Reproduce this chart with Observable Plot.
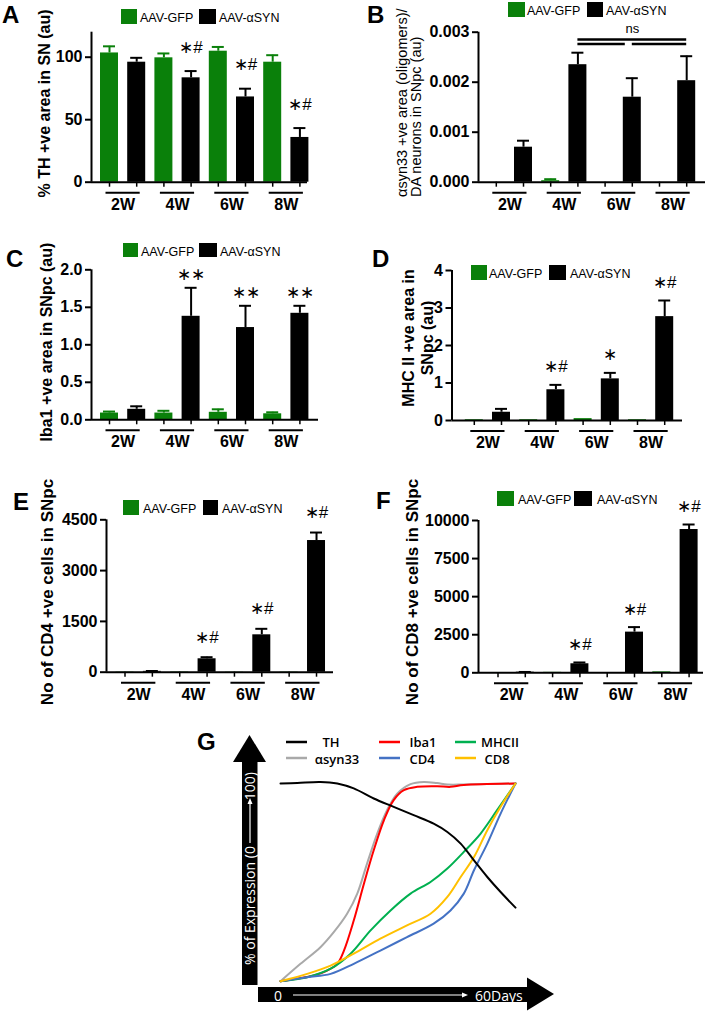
<!DOCTYPE html>
<html><head><meta charset="utf-8">
<script src="https://cdn.jsdelivr.net/npm/d3@7"></script>
<script src="https://cdn.jsdelivr.net/npm/@observablehq/plot@0.6"></script>
<style>
body{margin:0;background:#fff;}
#root{position:relative;width:709px;height:1012px;overflow:hidden;background:#fff;}
#root > svg{position:absolute;}
</style></head><body><div id="root"></div>
<script>
// ================= DATA =================
const weeks = ["2W", "4W", "6W", "8W"];
const seriesNames = ["AAV-GFP", "AAV-αSYN"];
const seriesColors = ["#0a800a", "#000000"];

// A: % TH +ve area in SN (au)
const aGFP = [103.4, 99.5, 104.8, 96.0];
const aGFPsem = [5.3, 3.5, 3.4, 5.6];
const aSYN = [96.0, 83.5, 68.2, 35.8];
const aSYNsem = [3.5, 5.4, 6.6, 7.5];
const aSig = ["", "∗#", "∗#", "∗#"];
const aTicks = [0, 50, 100];
const aLabel = ["% TH +ve area in SN (au)"];

// B: αsyn33 +ve area / DA neurons
const bGFP = [0, 0.00003, 0, 0];
const bGFPsem = [0, 0.00003, 0, 0];
const bSYN = [0.0007, 0.00235, 0.0017, 0.00203];
const bSYNsem = [0.00013, 0.00024, 0.00038, 0.00049];
const bSig = ["", "", "", ""];
const bTicks = [0, 0.001, 0.002, 0.003];
const bLabel = ["αsyn33 +ve area (oligomers)/", "DA neurons in SNpc (au)"];
const bCompare = [
  {from: "4W", to: "8W", level: 2},
  {from: "4W", to: "6W", level: 1},
  {from: "6W", to: "8W", level: 1}
];
const bCompareText = "ns";

// C: Iba1 +ve area in SNpc (au)
const cGFP = [0.09, 0.09, 0.10, 0.08];
const cGFPsem = [0.02, 0.03, 0.04, 0.02];
const cSYN = [0.14, 1.38, 1.23, 1.42];
const cSYNsem = [0.04, 0.38, 0.29, 0.10];
const cSig = ["", "∗∗", "∗∗", "∗∗"];
const cTicks = [0, 0.5, 1.0, 1.5, 2.0];
const cLabel = ["Iba1 +ve area in SNpc (au)"];

// D: MHC II +ve area in SNpc (au)
const dGFP = [0.02, 0.02, 0.05, 0.02];
const dGFPsem = [0, 0, 0, 0];
const dSYN = [0.22, 0.82, 1.11, 2.77];
const dSYNsem = [0.09, 0.13, 0.16, 0.43];
const dSig = ["", "∗#", "∗", "∗#"];
const dTicks = [0, 1, 2, 3, 4];
const dLabel = ["MHC II +ve area in", "SNpc (au)"];

// E: No of CD4 +ve cells in SNpc
const eGFP = [8, 10, 6, 8];
const eGFPsem = [0, 0, 0, 0];
const eSYN = [25, 396, 1104, 3888];
const eSYNsem = [10, 47, 177, 236];
const eSig = ["", "∗#", "∗#", "∗#"];
const eTicks = [0, 1500, 3000, 4500];
const eLabel = ["No of CD4 +ve cells in SNpc"];

// F: No of CD8 +ve cells in SNpc
const fGFP = [20, 30, 15, 60];
const fGFPsem = [0, 0, 0, 0];
const fSYN = [40, 592, 2671, 9408];
const fSYNsem = [15, 86, 329, 329];
const fSig = ["", "∗#", "∗#", "∗#"];
const fTicks = [0, 2500, 5000, 7500, 10000];
const fLabel = ["No of CD8 +ve cells in SNpc"];

// G: schematic % of expression over 0–60 days
const gSeries = ["TH", "αsyn33", "Iba1", "CD4", "MHCII", "CD8"];
const gColors = ["#000000", "#a9a9a9", "#ff0000", "#4472c4", "#00b050", "#ffc000"];
const gTH = [[0,100],[4.3,100.3],[10.2,100.8],[14.5,100],[18.7,97.5],[23.8,92.4],[28.9,88.2],[34.0,84.0],[39.1,79.7],[42.6,75.5],[46.0,69.6],[49.4,61.1],[52.8,52.7],[56.2,45.1],[60,37.2]];
const gSyn = [[0,0],[5.1,8.8],[10.2,17.2],[13.6,24.8],[17.0,34.1],[19.6,44.3],[22.1,59.5],[24.7,74.7],[27.2,86.5],[29.8,94.9],[33.2,99.7],[36.6,100.8],[40.0,100.2],[42.6,99.5],[46.8,99.5],[60,100]];
const gIba1 = [[0,0],[8.5,2.9],[11.9,5.4],[14.5,8.8],[16.2,15.5],[18.7,30.7],[21.3,49.3],[23.8,66.2],[26.4,81.4],[28.9,91.6],[31.5,96.6],[34.9,98.3],[40.0,98.6],[43.4,98.3],[46.8,99.2],[60,100]];
const gCD4 = [[0,0],[6.8,2.0],[12.8,3.7],[18.7,8.8],[25.5,15.5],[32.3,22.3],[39.1,29.1],[43.4,35.8],[46.8,44.3],[49.4,56.1],[52.8,69.6],[56.2,84.8],[60,100]];
const gMHCII = [[0,0],[6.8,2.0],[12.8,6.3],[17.9,13.9],[23.0,25.7],[28.1,35.8],[33.2,44.3],[38.3,50.2],[42.6,57.0],[46.8,65.4],[51.1,74.7],[55.3,86.5],[60,100]];
const gCD8 = [[0,0],[6.8,3.7],[12.8,7.9],[18.7,13.9],[25.5,21.5],[32.3,28.2],[38.3,34.1],[42.6,42.6],[46.0,52.7],[49.4,62.8],[52.8,76.4],[56.2,88.2],[60,100]];
const gYLabel = ["% of Expression (0", "100)"];
const gXLabel = ["0", "60Days"];

// ================= LAYOUT (pixels, not data) =================
const FONT = "Liberation Sans, Arial, Helvetica, sans-serif";
const root = document.getElementById("root");

function barPanel(L, P) {
  const sp = L.sp;
  const toP = px => (px - L.p0) / sp;
  const bars = [];
  weeks.forEach((w, i) => {
    bars.push({week: w, s: 0, pos: 2 * i, mean: P.gfp[i], sem: P.gfpSem[i], sig: ""});
    bars.push({week: w, s: 1, pos: 2 * i + 1, mean: P.syn[i], sem: P.synSem[i], sig: P.sig[i]});
  });
  const wk = weeks.map((w, i) => ({week: w, i}));
  const hw = 9 / sp, cap = 6 / sp, ext = 3.5 / sp;
  const xDom = [toP(L.axisL), toP(L.axisR)];
  const withErr = bars.filter(d => d.sem > 0);
  const marks = [];
  seriesColors.forEach((c, s) => {
    const sb = bars.filter(d => d.s === s);
    const se = withErr.filter(d => d.s === s);
    marks.push(Plot.ruleX(se, {x: "pos", y1: "mean", y2: d => d.mean + d.sem, stroke: c, strokeWidth: 2}));
    marks.push(Plot.ruleY(se, {x1: d => d.pos - cap, x2: d => d.pos + cap, y: d => d.mean + d.sem, stroke: c, strokeWidth: 2}));
    marks.push(Plot.rect(sb, {x1: d => d.pos - hw, x2: d => d.pos + hw, y1: 0, y2: "mean", fill: c}));
  });
  marks.push(
    Plot.ruleY([0], {stroke: "#000", strokeWidth: 2}),
    Plot.ruleX([xDom[0]], {stroke: "#000", strokeWidth: 2}),
    Plot.axisY({ticks: P.ticks, tickSize: 6, tickPadding: 3, tickFormat: P.fmt, fontSize: 16, fontWeight: "bold", label: null, strokeWidth: 2}),
    Plot.axisX({ticks: bars.map(d => d.pos), tickSize: 5, tickFormat: () => "", label: null, strokeWidth: 1.5}),
    Plot.ruleY(wk, {x1: d => 2 * d.i - ext, x2: d => 2 * d.i + 1 + ext, y: 0, dy: 10.5, stroke: "#000", strokeWidth: 2}),
    Plot.text(wk, {x: d => 2 * d.i + 0.5, y: 0, dy: 22.5, text: "week", fontSize: 16, fontWeight: "bold", fill: "#000"}),
    Plot.text(bars.filter(d => d.sig), {x: "pos", y: d => d.mean + d.sem, dy: L.sigDy, text: "sig", fontSize: 17, fontWeight: "normal", fill: "#000"})
  );
  if (P.compare) {
    const c = w => 2 * weeks.indexOf(w) + 1;
    [2, 1].forEach(lv => {
      marks.push(Plot.ruleY(P.compare.filter(d => d.level === lv), {
        x1: d => c(d.from), x2: d => c(d.to) - (lv === 1 && d.to !== weeks[3] ? 7 / sp : 0),
        y: P.ymax, dy: lv === 2 ? 7.3 : 11.8, stroke: "#000", strokeWidth: 2.4}));
    });
    marks.push(Plot.text([P.compareText], {x: c("6W"), y: P.ymax, dy: -3, text: d => d, fontSize: 13, fontWeight: "normal", fill: "#000"}));
  }
  const svg = Plot.plot({
    width: L.w, height: L.h,
    marginLeft: L.axisL - L.left, marginRight: L.left + L.w - L.axisR,
    marginTop: L.yTop - L.top, marginBottom: L.top + L.h - L.base,
    x: {type: "linear", domain: xDom},
    y: {type: "linear", domain: [0, P.ymax]},
    style: {fontFamily: FONT, fontWeight: "bold", color: "#000", background: "transparent", overflow: "visible"},
    marks
  });
  svg.style.left = L.left + "px";
  svg.style.top = L.top + "px";
  svg.style.position = "absolute";
  root.appendChild(svg);
}

barPanel({left: 0, top: 0, w: 354, h: 215, axisL: 91, axisR: 307, p0: 109, sp: 27.2, yTop: 31.7, base: 181.7, sigDy: -24},
  {gfp: aGFP, gfpSem: aGFPsem, syn: aSYN, synSem: aSYNsem, sig: aSig, ticks: aTicks, ymax: 120, fmt: d3.format("d")});
barPanel({left: 354, top: 0, w: 355, h: 215, axisL: 478, axisR: 705, p0: 495.8, sp: 27.2, yTop: 31.7, base: 181.7, sigDy: -20},
  {gfp: bGFP, gfpSem: bGFPsem, syn: bSYN, synSem: bSYNsem, sig: bSig, ticks: bTicks, ymax: 0.003, fmt: d3.format(".3f"), compare: bCompare, compareText: bCompareText});
barPanel({left: 0, top: 210, w: 354, h: 240, axisL: 91, axisR: 318, p0: 109, sp: 27.2, yTop: 269.3, base: 419.3, sigDy: -13},
  {gfp: cGFP, gfpSem: cGFPsem, syn: cSYN, synSem: cSYNsem, sig: cSig, ticks: cTicks, ymax: 2, fmt: d3.format(".1f")});
barPanel({left: 354, top: 210, w: 355, h: 240, axisL: 451.5, axisR: 682, p0: 473.8, sp: 27.2, yTop: 270, base: 420, sigDy: -18},
  {gfp: dGFP, gfpSem: dGFPsem, syn: dSYN, synSem: dSYNsem, sig: dSig, ticks: dTicks, ymax: 4, fmt: d3.format("d")});
barPanel({left: 0, top: 450, w: 354, h: 270, axisL: 106, axisR: 333, p0: 124.5, sp: 27.36, yTop: 519.3, base: 671.7, sigDy: -20},
  {gfp: eGFP, gfpSem: eGFPsem, syn: eSYN, synSem: eSYNsem, sig: eSig, ticks: eTicks, ymax: 4500, fmt: d3.format("d")});
barPanel({left: 354, top: 450, w: 355, h: 270, axisL: 478, axisR: 703, p0: 497.5, sp: 27.3, yTop: 520, base: 672.3, sigDy: -18},
  {gfp: fGFP, gfpSem: fGFPsem, syn: fSYN, synSem: fSYNsem, sig: fSig, ticks: fTicks, ymax: 10000, fmt: d3.format("d")});

// ---------- Panel G ----------
const gAll = [gTH, gSyn, gIba1, gCD4, gMHCII, gCD8].flatMap((arr, k) => arr.map(([day, pct]) => ({series: gSeries[k], day, pct})));
const gOrder = ["αsyn33", "Iba1", "MHCII", "CD4", "CD8", "TH"];
const gPlot = Plot.plot({
  width: 529, height: 382, marginLeft: 100, marginRight: 194, marginTop: 153, marginBottom: 31.3,
  x: {type: "linear", domain: [0, 60], axis: null},
  y: {type: "linear", domain: [0, 100], axis: null},
  style: {background: "transparent", overflow: "visible"},
  marks: gOrder.map(s => Plot.line(gAll.filter(d => d.series === s), {x: "day", y: "pct", stroke: gColors[gSeries.indexOf(s)], strokeWidth: 2, curve: "catmull-rom"}))
});
gPlot.style.left = "180px"; gPlot.style.top = "630px"; gPlot.style.position = "absolute";
root.appendChild(gPlot);

// ---------- overlay: letters, legends, axis titles, G arrows ----------
const ov = d3.select(root).append("svg").attr("width", 709).attr("height", 1012)
  .style("position", "absolute").style("left", "0px").style("top", "0px");
function txt(x, y, s, o = {}) {
  const t = ov.append("text").text(s)
    .attr("font-family", o.family || FONT).attr("font-size", o.size || 12)
    .attr("font-weight", o.weight || "normal").attr("fill", o.fill || "#000")
    .attr("text-anchor", o.anchor || "start");
  if (o.rotate) t.attr("transform", `translate(${x},${y}) rotate(-90)`);
  else t.attr("x", x).attr("y", y);
  return t;
}
// panel letters
[["A", 2, 23], ["B", 367, 23], ["C", 6, 267], ["D", 372, 267], ["E", 13, 510], ["F", 376, 509], ["G", 197, 750]]
  .forEach(([l, x, y]) => txt(x, y, l, {size: 24, weight: "bold"}));
// legends
const legendPos = [
  {g: [121, 9, 16, 15], gt: [140, 22], b: [199, 9, 17, 15], bt: [219, 22]},
  {g: [508, 2, 17, 15], gt: [527, 15], b: [587, 2, 16, 15], bt: [606, 15]},
  {g: [123, 243, 15, 14], gt: [141, 256], b: [199, 243, 18, 14], bt: [220, 256]},
  {g: [471, 265, 16, 15], gt: [489, 278], b: [549, 265, 17, 15], bt: [570, 278]},
  {g: [123, 500, 16, 15], gt: [143, 513], b: [203, 500, 15, 15], bt: [222, 513]},
  {g: [497, 491, 17, 15], gt: [518, 504], b: [574, 491, 18, 15], bt: [597, 504]}
];
legendPos.forEach(p => {
  [[p.g, p.gt, 0], [p.b, p.bt, 1]].forEach(([r, t, s]) => {
    ov.append("rect").attr("x", r[0]).attr("y", r[1]).attr("width", r[2]).attr("height", r[3]).attr("fill", seriesColors[s]);
    txt(t[0], t[1], seriesNames[s], {size: 12.5});
  });
});
// y-axis titles
txt(50, 103.5, aLabel[0], {rotate: true, anchor: "middle", size: 16, weight: "bold"});
txt(407, 197, bLabel[0], {rotate: true, anchor: "start", size: 14.5});
txt(421, 197, bLabel[1], {rotate: true, anchor: "start", size: 14.5});
txt(52, 342, cLabel[0], {rotate: true, anchor: "middle", size: 16, weight: "bold"});
txt(414, 338, dLabel[0], {rotate: true, anchor: "middle", size: 16, weight: "bold"});
txt(433, 338, dLabel[1], {rotate: true, anchor: "middle", size: 16, weight: "bold"});
txt(53, 592, eLabel[0], {rotate: true, anchor: "middle", size: 17, weight: "bold"});
txt(418, 592, fLabel[0], {rotate: true, anchor: "middle", size: 17, weight: "bold"});

// G arrows
ov.append("rect").attr("x", 242).attr("y", 762).attr("width", 15.5).attr("height", 223).attr("fill", "#000");
ov.append("polygon").attr("points", "233,762 266,762 249.5,735").attr("fill", "#000");
ov.append("rect").attr("x", 258).attr("y", 987).attr("width", 270).attr("height", 15).attr("fill", "#000");
ov.append("polygon").attr("points", "527,977.5 527,1010.5 554,994").attr("fill", "#000");
const GF = "Open Sans, Liberation Sans, sans-serif";
txt(255, 965, gYLabel[0], {rotate: true, anchor: "start", size: 14, family: GF, fill: "#fff"});
txt(255, 772, gYLabel[1], {rotate: true, anchor: "end", size: 14, family: GF, fill: "#fff"});
ov.append("line").attr("x1", 250).attr("x2", 250).attr("y1", 843).attr("y2", 803).attr("stroke", "#fff").attr("stroke-width", 1.2);
ov.append("polygon").attr("points", "247.5,804 252.5,804 250,798").attr("fill", "#fff");
txt(278, 1001, gXLabel[0], {anchor: "middle", size: 14, family: GF, fill: "#fff"});
ov.append("line").attr("x1", 293).attr("x2", 463).attr("y1", 995).attr("y2", 995).attr("stroke", "#fff").attr("stroke-width", 1.2);
ov.append("polygon").attr("points", "462,992.5 462,997.5 468,995").attr("fill", "#fff");
txt(475, 1001, gXLabel[1], {anchor: "start", size: 14, family: GF, fill: "#fff"});
// G legend
const gLeg = [
  {s: "TH", lx: 286, ly: 742, tx: 331, ty: 747},
  {s: "αsyn33", lx: 286, ly: 758, tx: 337, ty: 764},
  {s: "Iba1", lx: 379, ly: 742, tx: 423, ty: 747},
  {s: "CD4", lx: 379, ly: 758, tx: 422, ty: 764},
  {s: "MHCII", lx: 455, ly: 742, tx: 500, ty: 747},
  {s: "CD8", lx: 455, ly: 758, tx: 497, ty: 764}
];
gLeg.forEach(d => {
  ov.append("line").attr("x1", d.lx).attr("x2", d.lx + 21).attr("y1", d.ly).attr("y2", d.ly)
    .attr("stroke", gColors[gSeries.indexOf(d.s)]).attr("stroke-width", 2.5);
  txt(d.tx, d.ty, d.s, {anchor: "middle", size: 13, family: GF, weight: 600});
});
</script></body></html>
